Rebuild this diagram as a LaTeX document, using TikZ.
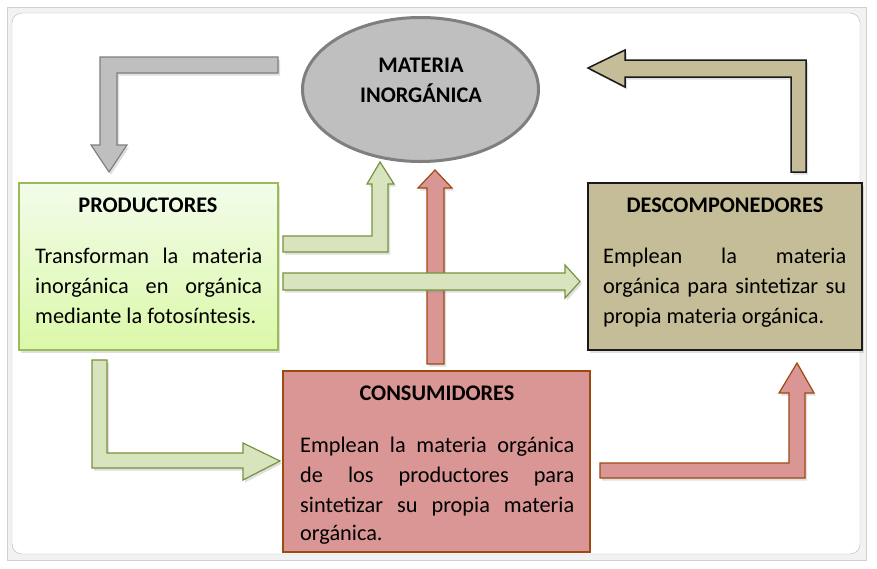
\documentclass[tikz,border=0pt]{standalone}
\usepackage{fontspec}
\setmainfont{Carlito}
\usetikzlibrary{shadows,shapes.geometric}
\definecolor{grayfill}{HTML}{BFBFBF}
\definecolor{graydraw}{HTML}{7F7F7F}
\definecolor{greenfill}{HTML}{D7E4BD}
\definecolor{greendraw}{HTML}{77933C}
\definecolor{prodtop}{HTML}{F2FCEA}
\definecolor{prodbot}{HTML}{DBF8A8}
\definecolor{proddraw}{HTML}{9BBB59}
\definecolor{redfill}{HTML}{D99694}
\definecolor{reddraw}{HTML}{9C4A12}
\definecolor{tanfill}{HTML}{C4BD97}
\definecolor{tandraw}{HTML}{1A1A1A}
\begin{document}
\begin{tikzpicture}[x=1pt,y=-1pt,
  font=\fontsize{22.3}{30}\selectfont,
  shad/.style={drop shadow={shadow xshift=2pt,shadow yshift=-2.5pt,opacity=0.25}},
  grayarrow/.style={fill=grayfill,draw=graydraw,line width=1.2pt,shad},
  greenarrow/.style={fill=greenfill,draw=greendraw,line width=1.2pt,shad},
  redarrow/.style={fill=redfill,draw=reddraw,line width=1.2pt,shad},
  tanarrow/.style={fill=tanfill,draw=tandraw,line width=1.5pt,shad},
  boxnode/.style={rectangle,inner sep=0pt},
  ttl/.style={anchor=base,inner sep=0pt,font=\fontsize{22.3}{30}\selectfont\bfseries},
  txt/.style={anchor=base west,inner sep=0pt}
]
\useasboundingbox (0,0) rectangle (877,568);
% frame
\fill[white] (0,0) rectangle (877,568);
\filldraw[fill=black!5,draw=black!18] (7,7) rectangle (866,560);
\filldraw[fill=white,draw=black!28,rounded corners=10pt] (12,13) rectangle (860,554);

% materia inorganica
\node[ellipse,draw=graydraw,fill=grayfill,line width=3pt,minimum width=236pt,minimum height=144pt,inner sep=0pt] (mat) at (420.5,89.5) {};
\node[ttl] (mat1) at (421,72) {MATERIA};
\node[ttl] (mat2) at (421,102) {INORGÁNICA};

% productores
\node[boxnode,shad,top color=prodtop,bottom color=prodbot,draw=proddraw,line width=1.5pt,minimum width=259pt,minimum height=167pt] (prod) at (148.5,266.5) {};
\node[ttl] (prodt) at (148,212) {PRODUCTORES};
\node[txt] (prod1) at (35,263) {\makebox[227pt][s]{Transforman la materia}};
\node[txt] (prod2) at (35,293) {\makebox[227pt][s]{inorgánica en orgánica}};
\node[txt] (prod3) at (35,323) {mediante la fotosíntesis.};

% consumidores
\node[boxnode,fill=redfill,draw=reddraw,line width=1.5pt,minimum width=307pt,minimum height=181pt] (cons) at (436.5,461.5) {};
\node[ttl] (const) at (437,400) {CONSUMIDORES};
\node[txt] (cons1) at (300,452) {\makebox[274pt][s]{Emplean la materia orgánica}};
\node[txt] (cons2) at (300,482) {\makebox[274pt][s]{de los productores para}};
\node[txt] (cons3) at (300,512) {\makebox[274pt][s]{sintetizar su propia materia}};
\node[txt] (cons4) at (300,540) {orgánica.};

% descomponedores
\node[boxnode,shad,fill=tanfill,draw=tandraw,line width=2pt,minimum width=274pt,minimum height=167pt] (desc) at (725,266.5) {};
\node[ttl] (desct) at (725,212) {DESCOMPONEDORES};
\node[txt] (desc1) at (603,263) {\makebox[243pt][s]{Emplean la materia}};
\node[txt] (desc2) at (603,293) {\makebox[243pt][s]{orgánica para sintetizar su}};
\node[txt] (desc3) at (603,323) {propia materia orgánica.};

% block arrows
% materia -> productores
\draw[grayarrow] (278,57) -- (100,57) -- (100,145) -- (91,145) -- (109,172) -- (127,145) -- (117,145) -- (117,73) -- (278,73) -- cycle;
% productores -> materia
\draw[greenarrow] (283,236) -- (372,236) -- (372,184) -- (367,184) -- (380,162) -- (394,184) -- (388,184) -- (388,252) -- (283,252) -- cycle;
% consumidores -> materia
\draw[redarrow] (427,364) -- (427,188) -- (418,188) -- (435,170) -- (452,188) -- (444,188) -- (444,364) -- cycle;
% productores -> descomponedores
\draw[greenarrow] (283,273) -- (565,273) -- (565,265) -- (580,281.5) -- (565,298) -- (565,290) -- (283,290) -- cycle;
% productores -> consumidores
\draw[greenarrow] (92,360) -- (107,360) -- (107,453) -- (243,453) -- (243,443) -- (280,461) -- (243,480) -- (243,468) -- (92,468) -- cycle;
% descomponedores -> materia
\draw[tanarrow] (791,172) -- (791,77) -- (625,77) -- (625,87) -- (588,68) -- (625,50) -- (625,60) -- (806,60) -- (806,172) -- cycle;
% consumidores -> descomponedores
\draw[redarrow] (600,463) -- (789,463) -- (789,393) -- (779,393) -- (797,363) -- (814,393) -- (805,393) -- (805,478) -- (600,478) -- cycle;
\end{tikzpicture}
\end{document}
